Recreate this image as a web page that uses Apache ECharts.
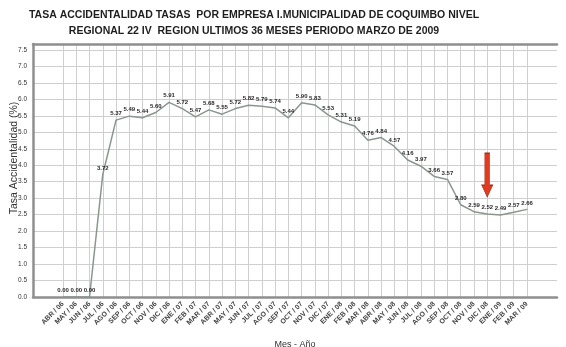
<!DOCTYPE html>
<html>
<head>
<meta charset="utf-8">
<script src="https://cdn.jsdelivr.net/npm/echarts@6/dist/echarts.min.js"></script>
<style>
  html, body { margin: 0; padding: 0; background: #fff; }
  #chart { width: 566px; height: 347px; }
</style>
</head>
<body>
<div id="chart"></div>
<script>
// Monthly accident rate, April 2006 - March 2009
const months = [
  'ABR / 06', 'MAY / 06', 'JUN / 06', 'JUL / 06', 'AGO / 06', 'SEP / 06',
  'OCT / 06', 'NOV / 06', 'DIC / 06', 'ENE / 07', 'FEB / 07', 'MAR / 07',
  'ABR / 07', 'MAY / 07', 'JUN / 07', 'JUL / 07', 'AGO / 07', 'SEP / 07',
  'OCT / 07', 'NOV / 07', 'DIC / 07', 'ENE / 08', 'FEB / 08', 'MAR / 08',
  'ABR / 08', 'MAY / 08', 'JUN / 08', 'JUL / 08', 'AGO / 08', 'SEP / 08',
  'OCT / 08', 'NOV / 08', 'DIC / 08', 'ENE / 09', 'FEB / 09', 'MAR / 09'
];
const tasa = [
  0.00, 0.00, 0.00, 3.72, 5.37, 5.49,
  5.44, 5.60, 5.91, 5.72, 5.47, 5.68,
  5.55, 5.72, 5.82, 5.79, 5.74, 5.44,
  5.90, 5.83, 5.53, 5.31, 5.19, 4.76,
  4.84, 4.57, 4.16, 3.97, 3.66, 3.57,
  2.80, 2.59, 2.52, 2.49, 2.57, 2.66
];
const titleLines = [
  'TASA ACCIDENTALIDAD TASAS  POR EMPRESA I.MUNICIPALIDAD DE COQUIMBO NIVEL',
  'REGIONAL 22 IV  REGION ULTIMOS 36 MESES PERIODO MARZO DE 2009'
];
const yName = 'Tasa Accidentalidad (%)';
const xName = 'Mes - Año';
const highlightMonth = 'DIC / 08';

const FONT = '"Liberation Sans", Arial, sans-serif';
const Y_MAX = 7.68;
const frameColor = '#8f8f8f';
const gridColor = '#cfcfcf';
const lineColor = '#8a978e';

const chart = echarts.init(document.getElementById('chart'), null, { renderer: 'canvas' });

chart.setOption({
  animation: false,
  backgroundColor: '#ffffff',
  graphic: [
    {
      type: 'text',
      style: {
        x: 254, y: 7,
        text: titleLines.join('\n'),
        textAlign: 'center',
        fontFamily: FONT,
        fontWeight: 'bold',
        fontSize: 10.5,
        lineHeight: 16,
        fill: '#1e1e1e'
      }
    },
    {
      // vertical axis title
      type: 'text',
      x: 14, y: 158,
      rotation: Math.PI / 2,
      style: {
        text: yName,
        textAlign: 'center',
        textVerticalAlign: 'middle',
        fontFamily: FONT,
        fontSize: 10.5,
        fill: '#333'
      }
    }
  ],
  grid: [
    // outer plot frame with horizontal grid
    { left: 33, right: 9, top: 44, bottom: 50, outerBoundsMode: 'none', containLabel: false },
    // category area where the series is drawn
    { left: 63, right: 39, top: 44, bottom: 50, outerBoundsMode: 'none', containLabel: false }
  ],
  xAxis: [
    {
      gridIndex: 0, type: 'value', min: 0, max: 1, position: 'bottom',
      axisLine: { show: true, lineStyle: { color: frameColor, width: 2.5 } },
      axisTick: { show: false }, axisLabel: { show: false }, splitLine: { show: false }
    },
    {
      gridIndex: 0, type: 'value', min: 0, max: 1, position: 'top',
      axisLine: { show: true, onZero: false, lineStyle: { color: frameColor, width: 2.5 } },
      axisTick: { show: false }, axisLabel: { show: false }, splitLine: { show: false }
    },
    {
      gridIndex: 1, type: 'category', data: months, boundaryGap: false,
      axisLine: { show: false }, axisTick: { show: false },
      axisLabel: {
        interval: 0, rotate: 45, margin: 6,
        fontFamily: FONT, fontSize: 7, fontWeight: 'bold', color: '#444'
      },
      splitLine: { show: true, lineStyle: { color: gridColor, width: 1 } },
      name: xName, nameLocation: 'middle', nameGap: 43,
      nameTextStyle: { fontFamily: FONT, fontSize: 9, color: '#333' }
    }
  ],
  yAxis: [
    {
      gridIndex: 0, type: 'value', min: 0, max: Y_MAX, interval: 0.5,
      axisLine: { show: true, lineStyle: { color: frameColor, width: 2.5 } },
      axisTick: { show: false },
      axisLabel: {
        showMaxLabel: false, margin: 6,
        fontFamily: FONT, fontSize: 6.5, color: '#333',
        formatter: v => v.toFixed(1)
      },
      splitLine: { show: true, lineStyle: { color: gridColor, width: 1 } }
    },
    {
      gridIndex: 1, type: 'value', min: 0, max: Y_MAX, show: false,
      splitLine: { show: false }
    }
  ],
  series: [{
    type: 'line',
    xAxisIndex: 2, yAxisIndex: 1,
    data: tasa,
    symbol: 'circle',
    symbolSize: 1,
    showSymbol: true,
    itemStyle: { color: lineColor },
    lineStyle: { color: lineColor, width: 1.5 },
    label: {
      show: true, position: 'top', distance: 3,
      fontFamily: FONT, fontSize: 6, fontWeight: 'bold', color: '#2a2a2a',
      formatter: p => p.value.toFixed(2)
    },
    markPoint: {
      silent: true,
      symbol: 'path://M3,0 L8,0 L8,32 L11,32 L5.5,44 L0,32 L3,32 Z',
      symbolSize: [11, 44],
      symbolKeepAspect: false,
      itemStyle: { color: '#e23a1f', borderColor: '#9a2a17', borderWidth: 0.6 },
      label: { show: false },
      data: [{ coord: [highlightMonth, 3.7] }]
    }
  }]
});
</script>
</body>
</html>
